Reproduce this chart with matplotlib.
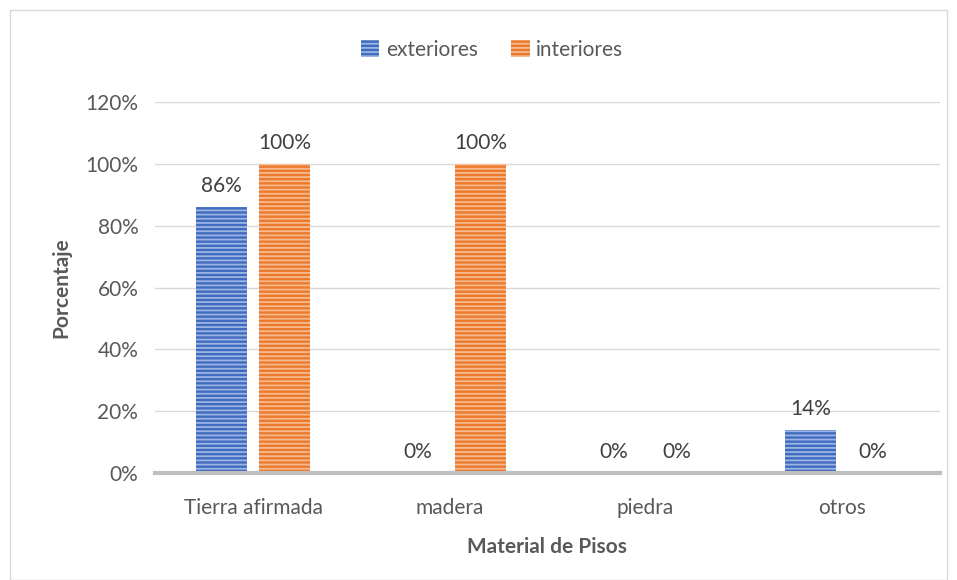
import numpy as np
import matplotlib
matplotlib.use("Agg")
import matplotlib.pyplot as plt
from matplotlib.patches import Rectangle

categorias = ["Tierra afirmada", "madera", "piedra", "otros"]
exteriores = [0.86, 0.0, 0.0, 0.14]
interiores = [1.00, 1.00, 0.0, 0.0]
series = ["exteriores", "interiores"]
yticks = [0, 0.2, 0.4, 0.6, 0.8, 1.0, 1.2]

plt.rcParams['font.family'] = ['Lato', 'DejaVu Sans']
plt.rcParams['hatch.linewidth'] = 1.3

fs = 15
fig = plt.figure(figsize=(9.57, 5.8), dpi=100)
ax = fig.add_axes([0.162, 0.1845, 0.82, 0.6395])

x = np.arange(len(categorias))
w = 0.26
off = 0.16
b1 = ax.bar(x - off, exteriores, w, color="#3F6BC0", edgecolor="#9DB5E2",
            hatch="----", linewidth=0, label=series[0], zorder=2)
b2 = ax.bar(x + off, interiores, w, color="#EC7A2C", edgecolor="#F7B98F",
            hatch="----", linewidth=0, label=series[1], zorder=2)

for bars, vals in ((b1, exteriores), (b2, interiores)):
    for r, v in zip(bars, vals):
        ax.text(r.get_x() + r.get_width() / 2, v + 0.035, f"{v*100:.0f}%",
                ha="center", va="bottom", fontsize=fs, color="#404040")

ax.set_xlim(-0.5, 3.5)
ax.set_ylim(0, 1.2)
ax.set_yticks(yticks)
ax.set_yticklabels([f"{t*100:.0f}%" for t in yticks])
ax.set_xticks(x)
ax.set_xticklabels(categorias)
ax.tick_params(axis="both", length=0, labelsize=fs, colors="#595959")
ax.tick_params(axis="x", pad=18)
ax.tick_params(axis="y", pad=12)
ax.grid(axis="y", color="#D9D9D9", linewidth=1, zorder=0)
for s in ["top", "right", "left"]:
    ax.spines[s].set_visible(False)
ax.spines["bottom"].set_color("#BFBFBF")
ax.spines["bottom"].set_linewidth(3)
ax.spines["bottom"].set_zorder(3)

ax.set_ylabel("Porcentaje", fontsize=fs, fontweight="bold", color="#595959", labelpad=10)
ax.set_xlabel("Material de Pisos", fontsize=fs, fontweight="bold", color="#595959", labelpad=14)

leg = fig.legend(loc="center", bbox_to_anchor=(0.514, 0.914), ncol=2, frameon=False,
                 fontsize=fs, handlelength=0.9, handleheight=0.9, handletextpad=0.3,
                 columnspacing=1.6)
for t in leg.get_texts():
    t.set_color("#595959")

fig.patches.append(Rectangle((10 / 957, 0.0), 937 / 957, 570 / 580, transform=fig.transFigure,
                             fill=False, edgecolor="#D9D9D9", linewidth=1))

fig.savefig("out.png", dpi=100)
